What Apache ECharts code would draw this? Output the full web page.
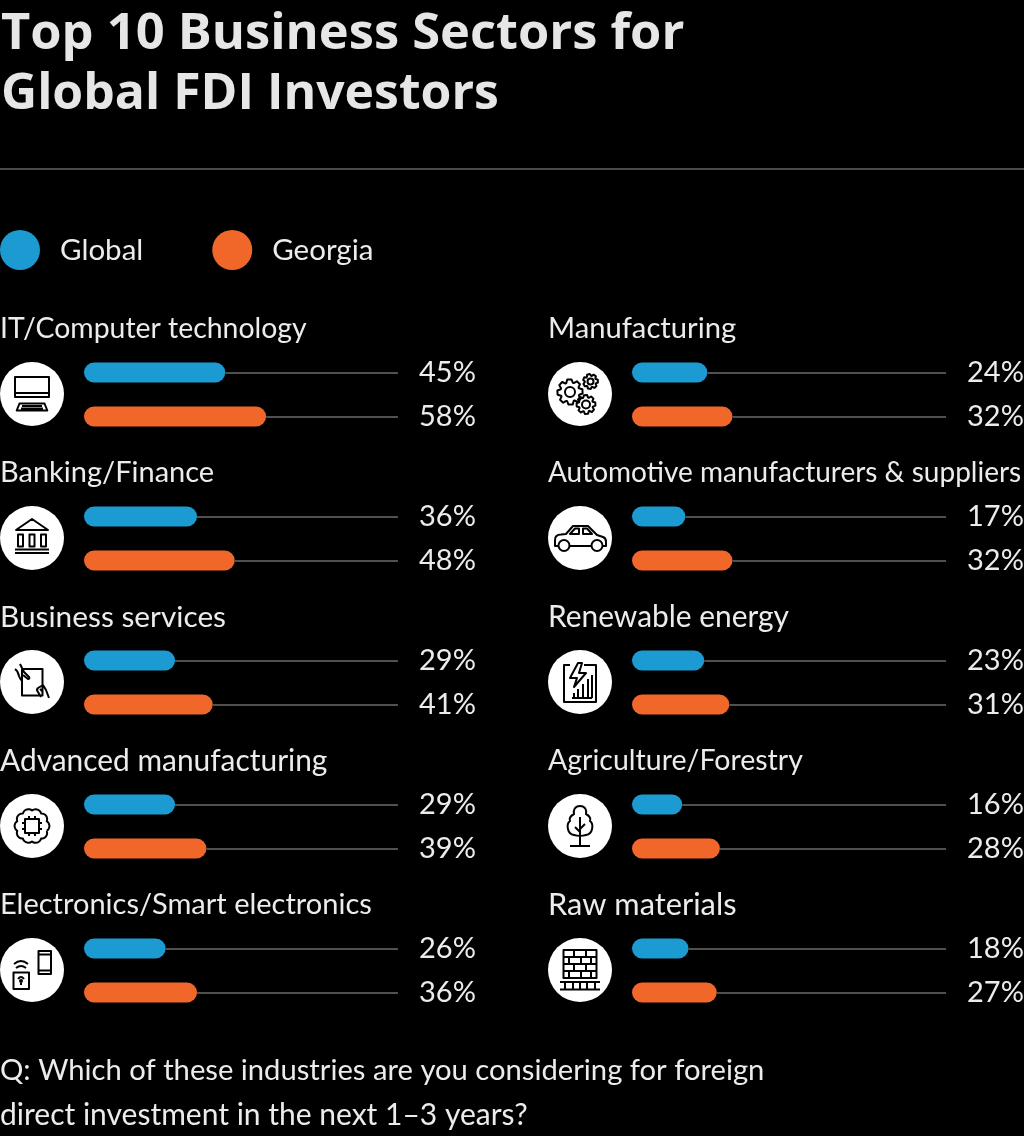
<!DOCTYPE html>
<html>
<head>
<meta charset="utf-8">
<style>html,body{margin:0;padding:0;background:#000}#c{width:1024px;height:1136px}</style>
<script src="https://cdn.jsdelivr.net/npm/echarts@6/dist/echarts.min.js"></script>
</head>
<body>
<div id="c"></div>
<script>
const titleLines = ['Top 10 Business Sectors for', 'Global FDI Investors'];
const seriesNames = ['Global', 'Georgia'];
const categories = ['IT/Computer technology','Banking/Finance','Business services','Advanced manufacturing','Electronics/Smart electronics','Manufacturing','Automotive manufacturers & suppliers','Renewable energy','Agriculture/Forestry','Raw materials'];
const globalValues = [45,36,29,29,26,24,17,23,16,18];
const georgiaValues = [58,48,41,39,36,32,32,31,28,27];
const questionLines = ['Q: Which of these industries are you considering for foreign','direct investment in the next 1–3 years?'];

const FONT = 'Lato';
const BLUE = '#1b9bd1', ORANGE = '#f1672a', TEXT = '#ececec', TRACK = '#505050';
const labelSizes = [28.4, 29, 29.8, 29.9, 29, 29.2, 28, 29.9, 28.5, 30.8];
const titleSizes = [50.6, 49.9];
const questionSizes = [29.2, 30];
const SIZE = 29;

function gear(cx, cy, R, n) {
  const r = R * 0.76, pts = [];
  for (let i = 0; i < n; i++) {
    const a = i / n * Math.PI * 2, w = Math.PI / n;
    [[r,-w],[R,-w*0.55],[R,w*0.3],[r,w*0.75]].forEach(p => pts.push([cx + p[0]*Math.cos(a+p[1]), cy + p[0]*Math.sin(a+p[1])]));
  }
  return 'M' + pts.map(p => p[0].toFixed(2) + ' ' + p[1].toFixed(2)).join('L') + 'Z';
}
function circ(cx, cy, r) { return `M${cx-r} ${cy}A${r} ${r} 0 1 0 ${cx+r} ${cy}A${r} ${r} 0 1 0 ${cx-r} ${cy}Z`; }
function cloud(R, n, rl) {
  let d = '';
  for (let i = 0; i <= n; i++) {
    const a = (i + 0.5) / n * Math.PI * 2;
    const x = (R * Math.cos(a)).toFixed(2), y = (R * Math.sin(a)).toFixed(2);
    d += i === 0 ? `M${x} ${y}` : `A${rl} ${rl} 0 0 1 ${x} ${y}`;
  }
  return d;
}
const icons = [
  // laptop
  'M-17 -17H17V3H-17ZM-17 -1H17M-12.5 9.5H12.5L15.3 16.5H-15.3ZM-10 12H10M-11 14.5H11',
  // bank
  'M0 -19L-16 -8H16ZM-14 -3.5H-9V8.5H-14ZM-2.5 -3.5H2.5V8.5H-2.5ZM9 -3.5H14V8.5H9ZM-17 11.5H17M-17 15H17',
  // tablet with hands
  'M-10 -13H10.5V13.5H-10ZM-12 -18L-8 -10L-3 -5Q-2 -3 -4 -3L-9 -7M-17 -13Q-14 -11 -13 -6Q-12 -3 -10 -1M11 3L6 6Q4 8 6 10L9 15M11 3L14 8L17 16M8 7L11 10',
  // chip in cloud
  cloud(15.5, 10, 5.6) + 'M-7 -7H7V7H-7ZM-3 -7V-10M3 -7V-10M-3 7V10M3 7V10M-7 -3H-10M-7 3H-10M7 -3H10M7 3H10',
  // phone and wifi
  'M6.5 -19H19V4H6.5ZM6.5 -15.5H19M6.5 0.5H19M-18.5 2.5H-3V19H-18.5ZM-16 -2Q-11 -6 -6 -2M-18 -6Q-11 -12 -4 -6M-14 9Q-11 5 -8 9M-11 12V15' + circ(-11, 11, 1),
  // gears
  gear(-10, -2, 12.7, 8) + circ(-10, -2, 5) + gear(10.5, -12.5, 7.5, 7) + circ(10.5, -12.5, 3) + gear(6, 10.5, 9.5, 8) + circ(6, 10.5, 4),
  // car
  'M-10.5 8H11M-21.5 8H-25V2Q-25 -3.5 -19 -3.5L-14 -4L-7 -12H8L17 -3L23 -1Q26 0 26 4V8H22.5M-10 -4L-5 -9.5H-1V-4ZM3 -9.5H7L12 -4H3Z' + circ(-16, 7.5, 5.5) + circ(17, 7.5, 5.5),
  // report with bolt
  'M-10 -17H-16V20H16V-17H4M-2 -19L-10 -4H-3L-6 5L6 -9H-1L2 -19ZM-8 16H12M-6 16V11M-2 16V7M3 16V2M8 16V-3M12 16V-7',
  // tree
  'M0 -20C-5 -20 -7 -16 -6 -12C-10 -10 -11 -7 -10 -5C-14 -2 -13 8 -6 9C-3 10 3 10 6 9C13 8 14 -2 10 -5C11 -7 10 -10 6 -12C7 -16 5 -20 0 -20ZM0 -9V20M0 3L5 -2M0 6L-5 1M-10 20H10',
  // bricks
  'M-16.5 -20H16.5V8H-16.5ZM-16.5 -13H16.5M-16.5 -6H16.5M-16.5 1H16.5M-6 -20V-13M6 -20V-13M-11 -13V-6M1 -13V-6M11 -13V-6M-6 -6V1M6 -6V1M-11 1V8M1 1V8M11 1V8M-20 12H20M-20 19.5H20M-15 12V19.5M-7 12V19.5M0 12V19.5M7 12V19.5M15 12V19.5'
];

const colX = [84, 632], labelX = [0, 548], iconX = [32, 580];
const grids = [], xAxes = [], yAxes = [], series = [], titles = [], graphics = [];

titleLines.forEach((t, i) => titles.push({ text: t, left: 1, top: 5 + 60 * i, padding: 0, textStyle: { color: '#e6e6e6', fontFamily: 'Open Sans', fontWeight: 700, fontSize: titleSizes[i], lineHeight: 60 } }));
questionLines.forEach((t, i) => titles.push({ text: t, left: 0, top: 1053 + 44 * i, padding: 0, textStyle: { color: TEXT, fontFamily: FONT, fontWeight: 400, fontSize: questionSizes[i], lineHeight: 36 } }));

graphics.push({ type: 'line', shape: { x1: 0, y1: 169, x2: 1024, y2: 169 }, style: { stroke: '#4a4a4a', lineWidth: 2 }, silent: true });

categories.forEach((cat, i) => {
  const col = i < 5 ? 0 : 1, row = i % 5, top = 350 + 144 * row;
  titles.push({ text: cat, left: labelX[col], top: top - 39, padding: 0, textStyle: { color: TEXT, fontFamily: FONT, fontWeight: 400, fontSize: labelSizes[i], lineHeight: 36 } });
  grids.push({ left: colX[col], top: top + 0.5, width: 314, height: 88, containLabel: false, outerBoundsMode: 'none' });
  xAxes.push({ gridIndex: i, type: 'value', min: 0, max: 100, show: false });
  const vals = [globalValues[i], georgiaValues[i]];
  yAxes.push({
    gridIndex: i, type: 'category', inverse: true, position: 'right', data: seriesNames,
    axisLine: { show: false }, axisTick: { show: false },
    axisLabel: { margin: 21, color: TEXT, fontFamily: FONT, fontSize: SIZE, padding: [2, 0, 0, 0], formatter: (_, idx) => vals[idx] + '%' }
  });
  seriesNames.forEach((name, s) => {
    series.push({
      name, type: 'bar', xAxisIndex: i, yAxisIndex: i, barWidth: 20, barGap: '-100%',
      data: s === 0 ? [vals[0], '-'] : ['-', vals[1]],
      itemStyle: { color: s === 0 ? BLUE : ORANGE, borderRadius: 10 },
      animation: false,
      markLine: {
        silent: true, animation: false, symbol: 'none', label: { show: false },
        lineStyle: { color: TRACK, width: 2, type: 'solid' },
        data: [[{ xAxis: vals[s], yAxis: name }, { xAxis: 100, yAxis: name }]]
      }
    });
  });
  const cx = iconX[col], cy = top + 44, pathData = icons[i];
  series.push({
    name: 'icon' + i, type: 'custom', coordinateSystem: 'none', silent: true, animation: false, z: 5,
    data: [0],
    renderItem: () => ({
      type: 'group',
      children: [
        { type: 'circle', shape: { cx, cy, r: 32 }, style: { fill: '#fff' } },
        { type: 'path', x: cx, y: cy, shape: { pathData }, style: { fill: null, stroke: '#000', lineWidth: 2, lineJoin: 'round' } }
      ]
    })
  });
});

const chart = echarts.init(document.getElementById('c'), null, { renderer: 'canvas' });
chart.setOption({
  backgroundColor: '#000',
  animation: false,
  title: titles,
  legend: {
    left: 0, top: 230, padding: 0, icon: 'circle', itemWidth: 40, itemHeight: 40, itemGap: 69,
    data: seriesNames, selectedMode: false,
    textStyle: { color: TEXT, fontFamily: FONT, fontSize: 29.5, padding: [2, 0, 0, 15] }
  },
  grid: grids, xAxis: xAxes, yAxis: yAxes, series,
  graphic: graphics
});
</script>
</body>
</html>
